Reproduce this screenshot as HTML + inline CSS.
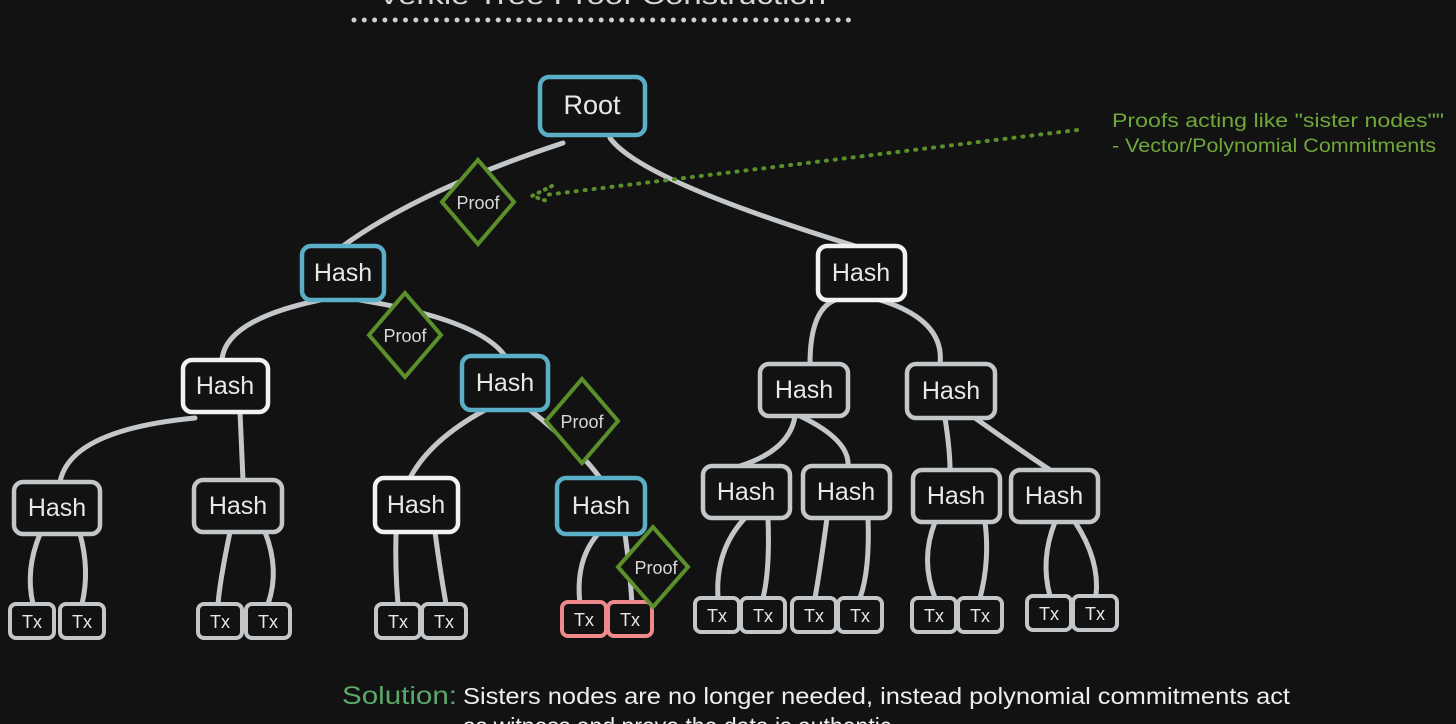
<!DOCTYPE html>
<html><head><meta charset="utf-8"><style>
html,body{margin:0;padding:0;background:#121212;width:1456px;height:724px;overflow:hidden}
svg{display:block}
text{font-family:"Liberation Sans",sans-serif}
</style></head><body>
<svg width="1456" height="724" viewBox="0 0 1456 724">
<rect width="1456" height="724" fill="#121212"/>
<text x="378" y="4" font-size="26" fill="#d8d8d8" textLength="448" lengthAdjust="spacingAndGlyphs">Verkle Tree Proof Construction</text>
<line x1="354" y1="20" x2="852" y2="20" stroke="#cfcfcf" stroke-width="5" stroke-linecap="round" stroke-dasharray="0 10.3"/>
<g fill="none" stroke="#c4c7ca" stroke-width="5" stroke-linecap="round">
<path d="M563 143 Q420 190 343 246"/>
<path d="M610 138 Q640 180 855 246"/>
<path d="M320 300 Q225 320 222 360"/>
<path d="M360 300 Q480 320 505 356"/>
<path d="M195 418 Q70 430 60 482"/>
<path d="M240 412 L243 480"/>
<path d="M485 410 Q430 440 410 478"/>
<path d="M530 410 Q580 450 600 478"/>
<path d="M835 300 Q810 310 810 364"/>
<path d="M880 300 Q945 320 940 364"/>
<path d="M795 416 Q790 450 740 466"/>
<path d="M800 416 Q850 440 848 466"/>
<path d="M945 418 Q950 450 950 470"/>
<path d="M975 418 Q1020 450 1050 470"/>
<path d="M40 534 Q25 570 33 604"/><path d="M80 534 Q90 570 82 604"/>
<path d="M230 532 Q220 580 218 604"/><path d="M265 532 Q280 570 268 604"/>
<path d="M396 532 Q395 570 398 604"/><path d="M435 532 Q440 570 446 604"/>
<path d="M598 534 Q575 560 580 604"/><path d="M625 534 Q630 570 632 604"/>
<path d="M745 518 Q715 550 718 598"/><path d="M768 518 Q770 570 763 598"/>
<path d="M827 518 Q820 570 815 598"/><path d="M868 518 Q870 570 860 598"/>
<path d="M935 522 Q920 560 935 598"/><path d="M985 522 Q990 560 980 598"/>
<path d="M1055 522 Q1040 560 1050 596"/><path d="M1075 522 Q1100 560 1096 596"/>
</g>
<line x1="1077" y1="130" x2="545" y2="195" stroke="#5a8f2a" stroke-width="4" stroke-dasharray="1 8" stroke-linecap="round"/>
<path d="M552 186 L532 196 L550 202" fill="none" stroke="#5a8f2a" stroke-width="4" stroke-dasharray="1 6" stroke-linecap="round"/>
<g stroke-width="4.5" fill="#121212">
<rect x="540" y="77" width="105" height="58" rx="9" stroke="#5aaec6"/>
<rect x="302" y="246" width="82" height="54" rx="9" stroke="#5aaec6"/>
<rect x="818" y="246" width="87" height="54" rx="9" stroke="#f2f2f2"/>
<rect x="183" y="360" width="85" height="52" rx="9" stroke="#f2f2f2"/>
<rect x="462" y="356" width="86" height="54" rx="9" stroke="#5aaec6"/>
<rect x="760" y="364" width="88" height="52" rx="9" stroke="#c4c7ca"/>
<rect x="907" y="364" width="88" height="54" rx="9" stroke="#c4c7ca"/>
<rect x="14" y="482" width="86" height="52" rx="9" stroke="#c4c7ca"/>
<rect x="194" y="480" width="88" height="52" rx="9" stroke="#c4c7ca"/>
<rect x="375" y="478" width="83" height="54" rx="9" stroke="#f2f2f2"/>
<rect x="557" y="478" width="88" height="56" rx="9" stroke="#5aaec6"/>
<rect x="703" y="466" width="87" height="52" rx="9" stroke="#c4c7ca"/>
<rect x="803" y="466" width="87" height="52" rx="9" stroke="#c4c7ca"/>
<rect x="913" y="470" width="87" height="52" rx="9" stroke="#c4c7ca"/>
<rect x="1011" y="470" width="87" height="52" rx="9" stroke="#c4c7ca"/>
</g>
<g stroke-width="4" fill="#121212" stroke="#c4c7ca">
<rect x="10" y="604" width="44" height="34" rx="6"/><rect x="60" y="604" width="44" height="34" rx="6"/>
<rect x="198" y="604" width="44" height="34" rx="6"/><rect x="246" y="604" width="44" height="34" rx="6"/>
<rect x="376" y="604" width="44" height="34" rx="6"/><rect x="422" y="604" width="44" height="34" rx="6"/>
<rect x="562" y="602" width="44" height="34" rx="6" stroke="#f08a8a"/><rect x="608" y="602" width="44" height="34" rx="6" stroke="#f08a8a"/>
<rect x="695" y="598" width="44" height="34" rx="6"/><rect x="741" y="598" width="44" height="34" rx="6"/>
<rect x="792" y="598" width="44" height="34" rx="6"/><rect x="838" y="598" width="44" height="34" rx="6"/>
<rect x="912" y="598" width="44" height="34" rx="6"/><rect x="958" y="598" width="44" height="34" rx="6"/>
<rect x="1027" y="596" width="44" height="34" rx="6"/><rect x="1073" y="596" width="44" height="34" rx="6"/>
</g>
<g stroke="#5a8f2a" stroke-width="4" fill="#121212">
<path d="M478 160 L514 202 L478 244 L442 202 Z"/>
<path d="M405 293 L441 335 L405 377 L369 335 Z"/>
<path d="M582 379 L618 421 L582 463 L546 421 Z"/>
<path d="M653 527 L688 567 L653 607 L618 567 Z"/>
</g>
<g fill="#e8e8e8" font-size="25" text-anchor="middle">
<text x="592" y="114" font-size="27">Root</text>
<text x="343" y="281">Hash</text><text x="861" y="281">Hash</text>
<text x="225" y="394">Hash</text><text x="505" y="391">Hash</text>
<text x="804" y="398">Hash</text><text x="951" y="399">Hash</text>
<text x="57" y="516">Hash</text><text x="238" y="514">Hash</text>
<text x="416" y="513">Hash</text><text x="601" y="514">Hash</text>
<text x="746" y="500">Hash</text><text x="846" y="500">Hash</text>
<text x="956" y="504">Hash</text><text x="1054" y="504">Hash</text>
</g>
<g fill="#e8e8e8" font-size="18" text-anchor="middle">
<text x="32" y="628">Tx</text><text x="82" y="628">Tx</text>
<text x="220" y="628">Tx</text><text x="268" y="628">Tx</text>
<text x="398" y="628">Tx</text><text x="444" y="628">Tx</text>
<text x="584" y="626">Tx</text><text x="630" y="626">Tx</text>
<text x="717" y="622">Tx</text><text x="763" y="622">Tx</text>
<text x="814" y="622">Tx</text><text x="860" y="622">Tx</text>
<text x="934" y="622">Tx</text><text x="980" y="622">Tx</text>
<text x="1049" y="620">Tx</text><text x="1095" y="620">Tx</text>
</g>
<g fill="#d8d8d8" font-size="18" text-anchor="middle">
<text x="478" y="209">Proof</text><text x="405" y="342">Proof</text>
<text x="582" y="428">Proof</text><text x="656" y="574">Proof</text>
</g>
<text x="1112" y="127" font-size="19" fill="#6fa83a" textLength="332" lengthAdjust="spacingAndGlyphs">Proofs acting like "sister nodes""</text>
<text x="1112" y="152" font-size="19" fill="#6fa83a" textLength="324" lengthAdjust="spacingAndGlyphs">- Vector/Polynomial Commitments</text>
<text x="342" y="704" font-size="25" fill="#5aa86a" textLength="115" lengthAdjust="spacingAndGlyphs">Solution:</text>
<text x="463" y="704" font-size="23" fill="#eeeeee" textLength="827" lengthAdjust="spacingAndGlyphs">Sisters nodes are no longer needed, instead polynomial commitments act</text>
<text x="463" y="734" font-size="23" fill="#eeeeee">as witness and prove the data is authentic</text>
</svg>
</body></html>
